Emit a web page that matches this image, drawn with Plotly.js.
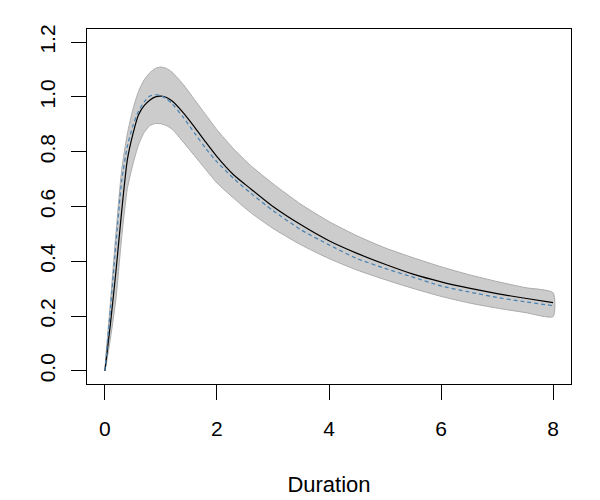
<!DOCTYPE html>
<html>
<head>
<meta charset="utf-8">
<script src="https://cdn.plot.ly/plotly-3.0.1.min.js"></script>
<style>
  html, body { margin: 0; padding: 0; background: #ffffff; }
  #chart { width: 600px; height: 500px; }
</style>
</head>
<body>
<div id="chart"></div>
<script>
// Duration grid
const duration = [0, 0.1, 0.2, 0.3, 0.4, 0.5, 0.6, 0.7, 0.8, 0.9, 1.0, 1.1, 1.2, 1.4, 1.6, 1.8, 2.0, 2.3, 2.6, 3.0, 3.5, 4.0, 4.5, 5.0, 5.5, 6.0, 6.5, 7.0, 7.5, 8.0];
// Estimated curve (solid black)
const estimate = [0, 0.175, 0.37, 0.585, 0.77, 0.865, 0.935, 0.968, 0.988, 1.0, 1.003, 0.998, 0.985, 0.942, 0.89, 0.835, 0.782, 0.715, 0.665, 0.60, 0.533, 0.475, 0.429, 0.389, 0.353, 0.325, 0.302, 0.282, 0.265, 0.249];
// Reference curve (blue dashed)
const reference = [0, 0.23, 0.473, 0.695, 0.82, 0.895, 0.948, 0.982, 1.003, 1.008, 1.005, 0.993, 0.975, 0.925, 0.868, 0.812, 0.763, 0.702, 0.649, 0.585, 0.515, 0.46, 0.41, 0.374, 0.342, 0.31, 0.288, 0.268, 0.252, 0.238];
// Confidence band
const upper = [0, 0.255, 0.51, 0.735, 0.865, 0.955, 1.02, 1.062, 1.088, 1.104, 1.109, 1.104, 1.09, 1.045, 0.99, 0.935, 0.88, 0.81, 0.75, 0.683, 0.608, 0.545, 0.493, 0.449, 0.413, 0.38, 0.351, 0.326, 0.304, 0.285];
const lower = [0, 0.12, 0.27, 0.49, 0.665, 0.755, 0.825, 0.87, 0.895, 0.903, 0.902, 0.895, 0.882, 0.835, 0.785, 0.735, 0.686, 0.63, 0.578, 0.52, 0.46, 0.41, 0.368, 0.333, 0.301, 0.272, 0.248, 0.229, 0.213, 0.198];
const xTicks = [0, 2, 4, 6, 8];
const yTicks = [0, 0.2, 0.4, 0.6, 0.8, 1.0, 1.2];
const yTickText = ['0.0', '0.2', '0.4', '0.6', '0.8', '1.0', '1.2'];

const bandX = duration.concat(duration.slice().reverse());
const bandY = upper.concat(lower.slice().reverse());

const traces = [
  {
    x: bandX, y: bandY, type: 'scatter', mode: 'lines',
    fill: 'toself', fillcolor: '#CCCCCC',
    line: {color: '#ABABAB', width: 1, shape: 'spline', smoothing: 0.6},
    hoverinfo: 'skip', showlegend: false
  },
  {
    x: duration, y: estimate, type: 'scatter', mode: 'lines',
    line: {color: '#000000', width: 1.2, shape: 'spline', smoothing: 0.6},
    showlegend: false
  },
  {
    x: duration, y: reference, type: 'scatter', mode: 'lines',
    line: {color: '#4682B4', width: 1.2, dash: '4px,3px', shape: 'spline', smoothing: 0.6},
    showlegend: false
  }
];

const fontFamily = 'Liberation Sans, Arial, Helvetica, sans-serif';
const tickFont = {family: fontFamily, size: 21, color: '#000000'};
const titleFont = {family: fontFamily, size: 22, color: '#000000'};

const layout = {
  width: 600, height: 500,
  margin: {l: 87, r: 29, t: 29, b: 116, pad: 0},
  paper_bgcolor: '#ffffff', plot_bgcolor: '#ffffff',
  font: tickFont,
  showlegend: false,
  xaxis: {
    range: [-0.32, 8.32], tickvals: xTicks, ticktext: xTicks.map(String),
    ticks: 'outside', ticklen: 15, tickwidth: 1, tickcolor: '#000000',
    showline: true, mirror: true, linecolor: '#000000', linewidth: 1,
    showgrid: false, zeroline: false, automargin: false,
    tickfont: tickFont, ticklabelstandoff: 11,
    title: {text: 'Duration', font: titleFont, standoff: 37}
  },
  yaxis: {
    range: [-0.048, 1.248], tickvals: yTicks, ticktext: yTickText,
    ticks: 'outside', ticklen: 15, tickwidth: 1, tickcolor: '#000000',
    showline: true, mirror: true, linecolor: '#000000', linewidth: 1,
    showgrid: false, zeroline: false, automargin: false,
    tickangle: -90, tickfont: tickFont, ticklabelstandoff: 8
  }
};

Plotly.newPlot('chart', traces, layout, {displayModeBar: false, staticPlot: true});
</script>
</body>
</html>
